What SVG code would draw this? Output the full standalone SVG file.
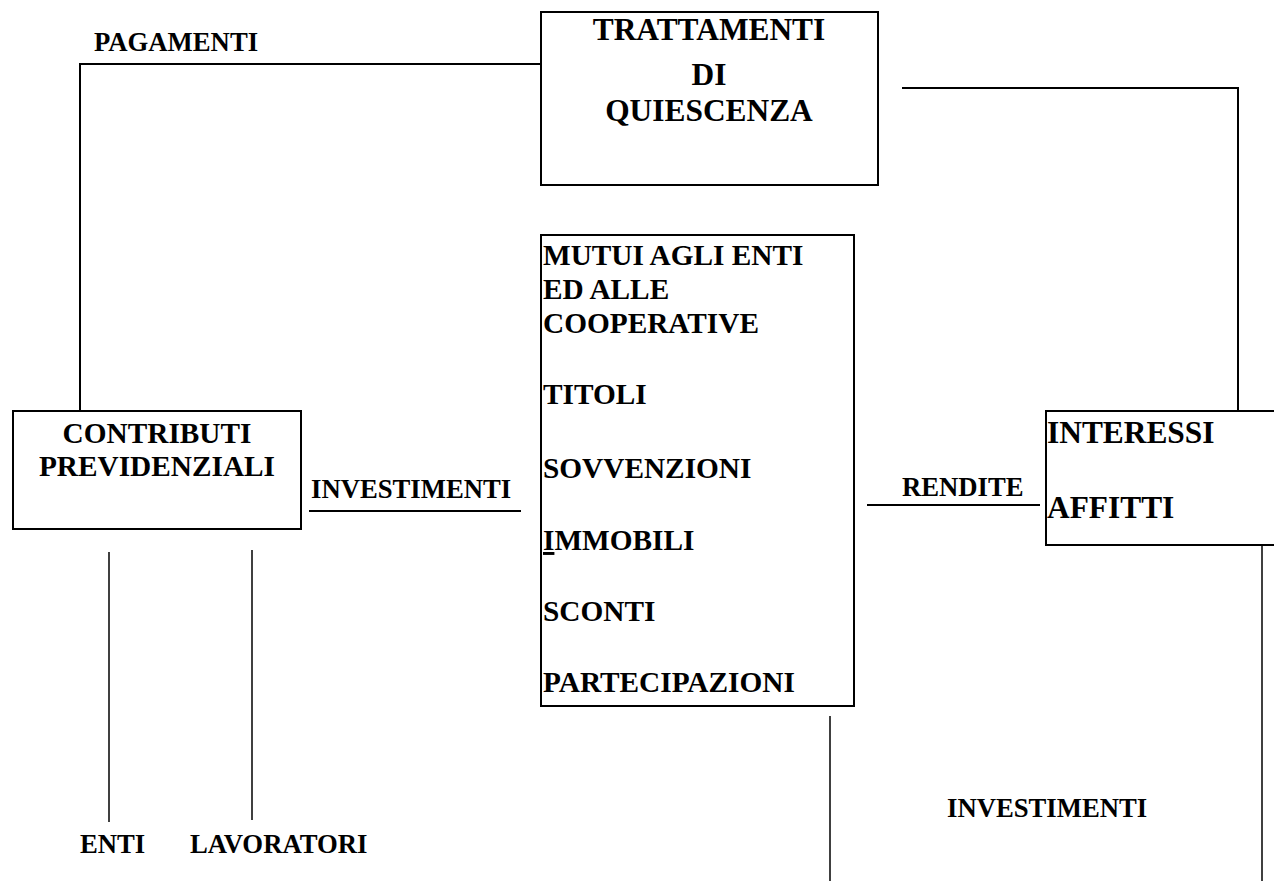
<svg xmlns="http://www.w3.org/2000/svg" width="1274" height="881" viewBox="0 0 1274 881">
<style>
.box{fill:#fff;stroke:#000;stroke-width:2}
.ln{fill:none;stroke:#000;stroke-width:2}
.thin{fill:none;stroke:#000;stroke-width:1.5}
text{font-family:"Liberation Serif","Times New Roman",serif;font-weight:bold;fill:#000}
.lbl{font-size:26.7px}
.big{font-size:31.4px}
.mid{font-size:29.3px}
</style>
<rect width="1274" height="881" fill="#fff"/>
<g id="connectors">
<polyline class="ln" points="541,64 80,64 80,411"/>
<polyline class="ln" points="902,88 1238,88 1238,411"/>
<line class="ln" x1="309" y1="511" x2="521" y2="511"/>
<line class="ln" x1="867" y1="505" x2="1040" y2="505"/>
<line class="thin" x1="109" y1="552" x2="109" y2="822"/>
<line class="thin" x1="252" y1="550" x2="252" y2="820"/>
<line class="thin" x1="830" y1="716" x2="830" y2="881"/>
<line class="thin" x1="1262" y1="545" x2="1262" y2="881"/>
<text class="lbl" x="94" y="51">PAGAMENTI</text>
<text class="lbl" x="311" y="498">INVESTIMENTI</text>
<text class="lbl" x="902" y="496">RENDITE</text>
<text class="lbl" x="947" y="817">INVESTIMENTI</text>
<text class="lbl" x="80" y="853">ENTI</text>
<text class="lbl" x="190" y="853">LAVORATORI</text>
</g>
<g id="trattamenti">
<rect class="box" x="541" y="12" width="337" height="173"/>
<text class="big" text-anchor="middle" x="709" y="40">TRATTAMENTI</text>
<text class="big" text-anchor="middle" x="709" y="85">DI</text>
<text class="big" text-anchor="middle" x="709" y="121">QUIESCENZA</text>
</g>
<g id="contributi">
<rect class="box" x="13" y="411" width="288" height="118"/>
<text class="mid" text-anchor="middle" x="157" y="443">CONTRIBUTI</text>
<text class="mid" text-anchor="middle" x="157" y="476">PREVIDENZIALI</text>
</g>
<g id="impieghi">
<rect class="box" x="541" y="235" width="313" height="471"/>
<text class="mid" x="543" y="265">MUTUI AGLI ENTI</text>
<text class="mid" x="543" y="299">ED ALLE</text>
<text class="mid" x="543" y="333">COOPERATIVE</text>
<text class="mid" x="543" y="404">TITOLI</text>
<text class="mid" x="543" y="478">SOVVENZIONI</text>
<text class="mid" x="543" y="550"><tspan text-decoration="underline">I</tspan>MMOBILI</text>
<text class="mid" x="543" y="621">SCONTI</text>
<text class="mid" x="543" y="692">PARTECIPAZIONI</text>
</g>
<g id="rendite">
<rect class="box" x="1046" y="411" width="240" height="134"/>
<text class="big" x="1047" y="443">INTERESSI</text>
<text class="big" x="1047" y="518">AFFITTI</text>
</g>
</svg>
